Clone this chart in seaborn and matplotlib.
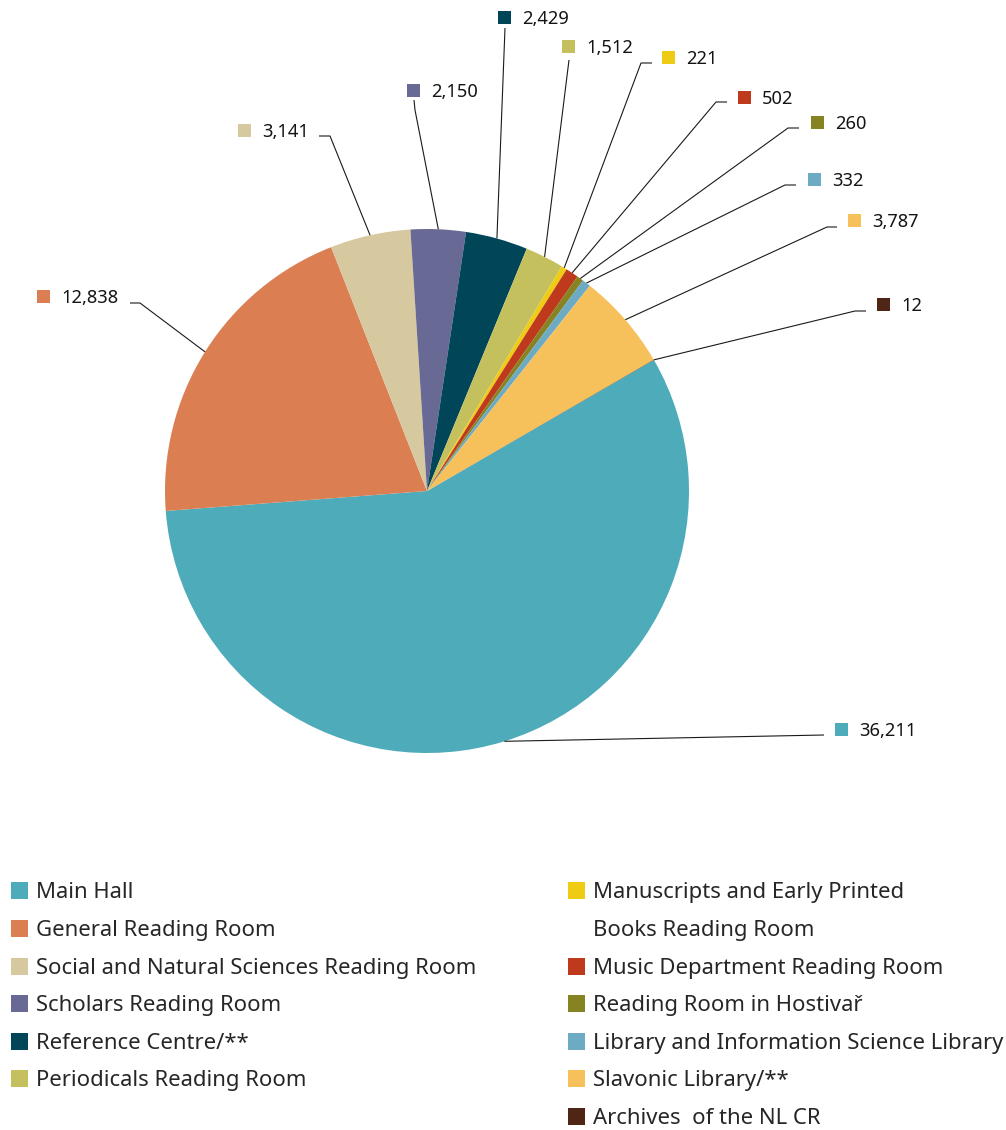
import matplotlib
matplotlib.use("Agg")
import matplotlib.pyplot as plt
import seaborn as sns
import numpy as np
from matplotlib.patches import Rectangle

# --- Dati ---
rooms = [
    "Main Hall",
    "General Reading Room",
    "Social and Natural Sciences Reading Room",
    "Scholars Reading Room",
    "Reference Centre/**",
    "Periodicals Reading Room",
    "Manuscripts and Early Printed\nBooks Reading Room",
    "Music Department Reading Room",
    "Reading Room in Hostivař",
    "Library and Information Science Library",
    "Slavonic Library/**",
    "Archives  of the NL CR",
]
visits = [36211, 12838, 3141, 2150, 2429, 1512, 221, 502, 260, 332, 3787, 12]
colors = ["#4eabb9", "#db7e52", "#d6c89f", "#696995", "#004658", "#c5c05e",
          "#f0cb14", "#bf3a1c", "#868323", "#6daac4", "#f6c15b", "#4f2515"]

# --- Layout (pixel) ---
W, H = 1006, 1130
CX, CY, R = 427, 491, 262
# centro del quadratino di ogni etichetta
label_pos = [(842, 729), (44, 296), (245, 130), (414, 90), (505, 17), (569, 46),
             (669, 57), (745, 97), (818, 122), (815, 179), (855, 220), (884, 304)]
# punti della linea guida (dal bordo della torta verso l'etichetta)
leader_pts = [
    [(824, 735)],
    [(140, 303), (130, 303)],
    [(330, 136), (319, 136)],
    [(415, 110), (414, 100)],
    [(505, 28)],
    [(569, 60)],
    [(641, 63), (652, 63)],
    [(716, 102), (727, 102)],
    [(788, 128), (799, 128)],
    [(785, 185), (796, 185)],
    [(827, 227), (837, 227)],
    [(855, 311), (866, 311)],
]


def px(x, y):
    return x, H - y


sns.set_theme(style="white")
plt.rcParams["font.family"] = ["Noto Sans", "DejaVu Sans"]

fig = plt.figure(figsize=(W / 100, H / 100), dpi=100)
ax = fig.add_axes([0, 0, 1, 1])

wedges, _ = ax.pie(visits, colors=colors, startangle=30, counterclock=False,
                   radius=R, center=px(CX, CY),
                   wedgeprops=dict(linewidth=0))
ax.set_xlim(0, W)
ax.set_ylim(0, H)
ax.set_aspect("equal")
ax.axis("off")

# --- Etichette con linee guida ---
for i, w in enumerate(wedges):
    theta = np.deg2rad((w.theta1 + w.theta2) / 2)
    ax0 = w.center[0] + R * np.cos(theta)
    ay0 = w.center[1] + R * np.sin(theta)
    xs = [ax0] + [p[0] for p in leader_pts[i]]
    ys = [ay0] + [H - p[1] for p in leader_pts[i]]
    ax.plot(xs, ys, color="#1a1a1a", lw=0.8, solid_capstyle="butt")

    mx, my = label_pos[i]
    ax.add_patch(Rectangle(px(mx - 6.5, my + 6.5), 13, 13, color=colors[i], lw=0))
    ax.text(mx + 17, H - my, f"{visits[i]:,}", fontsize=13.2, color="#141414",
            ha="left", va="center_baseline")

# --- Legenda manuale su due colonne ---
rows_y = [890, 928, 966, 1003, 1041, 1078, 1116]
left_items = list(range(6))
right_items = list(range(6, 12))
for k, i in enumerate(left_items):
    y = rows_y[k]
    ax.add_patch(Rectangle(px(11, y + 8.5), 17, 17, color=colors[i], lw=0))
    ax.text(36, H - y, rooms[i], fontsize=15.9, color="#262626",
            ha="left", va="center_baseline")
row = 0
for i in right_items:
    y = rows_y[row]
    ax.add_patch(Rectangle(px(568, y + 8.5), 17, 17, color=colors[i], lw=0))
    for j, line in enumerate(rooms[i].split("\n")):
        ax.text(593, H - rows_y[row + j], line, fontsize=15.9, color="#262626",
                ha="left", va="center_baseline")
    row += len(rooms[i].split("\n"))

fig.savefig("out.png", dpi=100, facecolor="white")
plt.close(fig)
